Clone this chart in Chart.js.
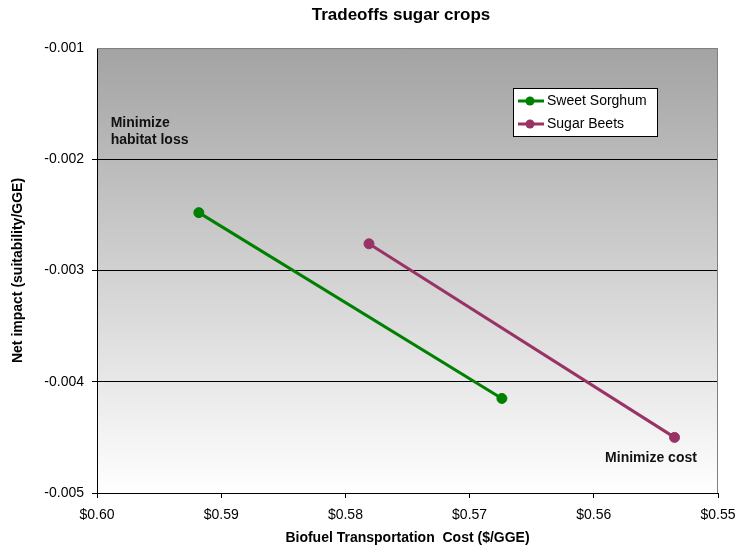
<!DOCTYPE html>
<html>
<head>
<meta charset="utf-8">
<script src="https://cdn.jsdelivr.net/npm/chart.js@4"></script>
<style>
  body { margin: 0; background: #fff; }
  #wrap { width: 738px; height: 550px; }
</style>
</head>
<body>
<div id="wrap"><canvas id="tradeoffs"></canvas></div>
<script>
// tradeoffs sugar crops - cost vs net impact
var seriesNames = ["Sweet Sorghum", "Sugar Beets"];
var seriesColors = ["#008000", "#993366"];
var sorghumCost = [0.5918, 0.5674];
var sorghumImpact = [-0.00248, -0.00415];
var beetsCost = [0.5781, 0.5535];
var beetsImpact = [-0.00276, -0.00450];
var xTicks = [0.60, 0.59, 0.58, 0.57, 0.56, 0.55];
var yTicks = [-0.001, -0.002, -0.003, -0.004, -0.005];

function pts(xs, ys) {
  return xs.map(function (x, i) { return { x: x, y: ys[i] }; });
}

var FONT = "'Liberation Sans', Arial, sans-serif";

// gradient background, frame, title, notes and legend box
var decor = {
  id: 'decor',
  beforeDraw: function (chart) {
    var c = chart.ctx, a = chart.chartArea;
    var g = c.createLinearGradient(0, a.top, 0, a.bottom);
    g.addColorStop(0, '#a3a3a3');
    g.addColorStop(1, '#ffffff');
    c.save();
    c.fillStyle = g;
    c.fillRect(a.left, a.top, a.right - a.left, a.bottom - a.top);
    c.restore();
  },
  afterDraw: function (chart) {
    var c = chart.ctx, a = chart.chartArea;
    var xs = chart.scales.x, ys = chart.scales.y;
    c.save();
    // top and right frame
    c.strokeStyle = '#808080';
    c.lineWidth = 1;
    c.beginPath();
    c.moveTo(a.left, a.top + 0.5);
    c.lineTo(a.right - 0.5, a.top + 0.5);
    c.lineTo(a.right - 0.5, a.bottom);
    c.stroke();

    // title
    c.fillStyle = '#000';
    c.textAlign = 'center';
    c.textBaseline = 'middle';
    c.font = 'bold 17px ' + FONT;
    c.fillText('Tradeoffs sugar crops', 401, 15);

    // notes
    c.font = 'bold 14px ' + FONT;
    c.fillStyle = '#111';
    c.textAlign = 'left';
    var nx = xs.getPixelForValue(0.5989);
    c.fillText('Minimize', nx, ys.getPixelForValue(-0.001674));
    c.fillText('habitat loss', nx, ys.getPixelForValue(-0.001827));
    c.textAlign = 'right';
    c.fillText('Minimize cost', xs.getPixelForValue(0.5517), ys.getPixelForValue(-0.004685));

    // legend
    var lx = 513, ly = 88, lw = 144, lh = 48;
    c.fillStyle = '#fff';
    c.fillRect(lx, ly, lw, lh);
    c.strokeStyle = '#000';
    c.lineWidth = 1;
    c.strokeRect(lx + 0.5, ly + 0.5, lw, lh);
    c.font = '14px ' + FONT;
    c.textAlign = 'left';
    seriesNames.forEach(function (name, i) {
      var yy = ly + 13 + i * 23;
      c.strokeStyle = seriesColors[i];
      c.fillStyle = seriesColors[i];
      c.lineWidth = 3;
      c.beginPath();
      c.moveTo(lx + 5, yy);
      c.lineTo(lx + 31, yy);
      c.stroke();
      c.beginPath();
      c.arc(lx + 17, yy, 4.5, 0, Math.PI * 2);
      c.fill();
      c.fillStyle = '#000';
      c.fillText(name, lx + 34, yy);
    });
    c.restore();
  }
};

new Chart(document.getElementById('tradeoffs'), {
  type: 'scatter',
  data: {
    datasets: [{
      label: seriesNames[0],
      data: pts(sorghumCost, sorghumImpact),
      borderColor: seriesColors[0],
      backgroundColor: seriesColors[0],
      showLine: true,
      borderWidth: 3,
      pointRadius: 5,
      pointBorderWidth: 1,
      pointHoverRadius: 5
    }, {
      label: seriesNames[1],
      data: pts(beetsCost, beetsImpact),
      borderColor: seriesColors[1],
      backgroundColor: seriesColors[1],
      showLine: true,
      borderWidth: 3,
      pointRadius: 5,
      pointBorderWidth: 1,
      pointHoverRadius: 5
    }]
  },
  plugins: [decor],
  options: {
    responsive: true,
    maintainAspectRatio: false,
    animation: false,
    layout: { padding: { top: 48, right: 20, left: 0, bottom: 0 } },
    plugins: {
      legend: { display: false },
      title: { display: false },
      tooltip: { enabled: false }
    },
    scales: {
      x: {
        type: 'linear',
        reverse: true,
        min: 0.55,
        max: 0.60,
        afterBuildTicks: function (s) { s.ticks = xTicks.map(function (v) { return { value: v }; }); },
        afterFit: function (s) { s.height = 57; s.paddingLeft = 0; s.paddingRight = 0; },
        border: { color: '#000', width: 1 },
        grid: { drawOnChartArea: false, color: '#000', tickLength: 5 },
        ticks: {
          color: '#000',
          font: { family: FONT, size: 14 },
          padding: 9,
          maxRotation: 0,
          callback: function (v) { return '$' + v.toFixed(2); }
        },
        title: {
          display: true,
          text: 'Biofuel Transportation  Cost ($/GGE)',
          color: '#000',
          font: { family: FONT, size: 14, weight: 'bold' },
          padding: { top: 0, bottom: 3 }
        }
      },
      y: {
        type: 'linear',
        min: -0.005,
        max: -0.001,
        afterBuildTicks: function (s) { s.ticks = yTicks.map(function (v) { return { value: v }; }); },
        afterFit: function (s) { s.width = 97; s.paddingTop = 0; s.paddingBottom = 0; },
        border: { color: '#000', width: 1 },
        grid: {
          color: function (ctx) {
            var v = ctx.tick ? ctx.tick.value : null;
            if (v === -0.001) return 'rgba(0,0,0,0)';
            return '#000';
          },
          lineWidth: 1,
          tickLength: 5
        },
        ticks: {
          color: '#000',
          font: { family: FONT, size: 14 },
          padding: 8,
          callback: function (v) { return v.toFixed(3); }
        },
        title: {
          display: true,
          text: 'Net impact (suitability/GGE)',
          color: '#000',
          font: { family: FONT, size: 14, weight: 'bold' },
          padding: { top: 10, bottom: 0 }
        }
      }
    }
  }
});
</script>
</body>
</html>
